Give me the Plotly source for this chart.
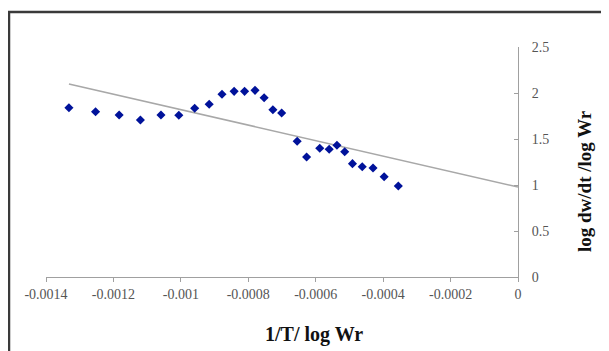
import plotly.graph_objects as go

# Data
x_vals = [-0.001332, -0.001253, -0.001183, -0.001120, -0.001059, -0.001006,
          -0.000959, -0.000916, -0.000878, -0.000842, -0.000811, -0.000780,
          -0.000753, -0.000727, -0.000701, -0.000655, -0.000627, -0.000588,
          -0.000560, -0.000537, -0.000514, -0.000491, -0.000462, -0.000430,
          -0.000397, -0.000355]
y_vals = [1.840, 1.797, 1.761, 1.707, 1.761, 1.758,
          1.834, 1.877, 1.986, 2.018, 2.018, 2.029,
          1.949, 1.818, 1.783, 1.475, 1.304, 1.399,
          1.388, 1.432, 1.362, 1.232, 1.199, 1.185,
          1.090, 0.989]
trend_slope = -841.0
trend_intercept = 0.978
trend_x = [-0.001332, 0.0]
x_ticks = [-0.0014, -0.0012, -0.001, -0.0008, -0.0006, -0.0004, -0.0002, 0]
x_tick_labels = ["-0.0014", "-0.0012", "-0.001", "-0.0008", "-0.0006", "-0.0004", "-0.0002", "0"]
y_ticks = [0, 0.5, 1, 1.5, 2, 2.5]
y_tick_labels = ["0", "0.5", "1", "1.5", "2", "2.5"]

OFF = 8  # page body margin
W, H = 609 - OFF, 351 - OFF
ml, mr, mt, mb = 46 - OFF, 91, 47 - OFF, 74
pw, ph = W - ml - mr, H - mt - mb

def px_x(p):
    return (p - OFF - ml) / pw

def px_y(p):
    return (H - mb - (p - OFF)) / ph

fig = go.Figure()
fig.add_trace(go.Scatter(
    x=trend_x, y=[trend_intercept + trend_slope * v for v in trend_x],
    mode="lines", line=dict(color="#a8a8a8", width=1.5), showlegend=False,
    hoverinfo="skip"))
fig.add_trace(go.Scatter(
    x=x_vals, y=y_vals, mode="markers",
    marker=dict(symbol="diamond", size=7, color="#00129a"),
    showlegend=False))

font_serif = "Liberation Serif, Times New Roman, serif"

fig.update_layout(
    width=W, height=H,
    margin=dict(l=ml, r=mr, t=mt, b=mb),
    paper_bgcolor="white", plot_bgcolor="white",
    font=dict(family=font_serif, color="#555555", size=14),
    xaxis=dict(range=[-0.0014, 0], tickvals=x_ticks, ticktext=x_tick_labels,
               showgrid=False, zeroline=False, showline=True, linecolor="#a0a0a0",
               linewidth=1, ticks="outside", ticklen=4, tickcolor="#a0a0a0",
               tickfont=dict(family=font_serif, size=14, color="#555555")),
    yaxis=dict(range=[0, 2.5], tickvals=y_ticks, ticktext=y_tick_labels,
               side="right", showgrid=False, zeroline=False, showline=True,
               linecolor="#a0a0a0", linewidth=1, ticks="inside", ticklen=4,
               tickcolor="#a0a0a0", ticklabelstandoff=10,
               tickfont=dict(family=font_serif, size=14, color="#555555")),
    annotations=[
        dict(text="<b>1/T/ log Wr</b>", xref="paper", yref="paper",
             x=px_x(314), y=px_y(334), xanchor="center", yanchor="middle",
             showarrow=False,
             font=dict(family=font_serif, size=20, color="#111111")),
        dict(text="<b>log dw/dt /log Wr</b>", xref="paper", yref="paper",
             x=px_x(584), y=px_y(181), xanchor="center", yanchor="middle",
             showarrow=False, textangle=-90,
             font=dict(family=font_serif, size=19, color="#111111")),
    ],
    shapes=[
        dict(type="rect", xref="paper", yref="paper",
             x0=px_x(9), x1=px_x(640), y0=px_y(380), y1=px_y(12),
             line=dict(color="#3a3a3a", width=2.5), fillcolor="rgba(0,0,0,0)",
             layer="below"),
    ],
)

fig.write_html("out.html")
